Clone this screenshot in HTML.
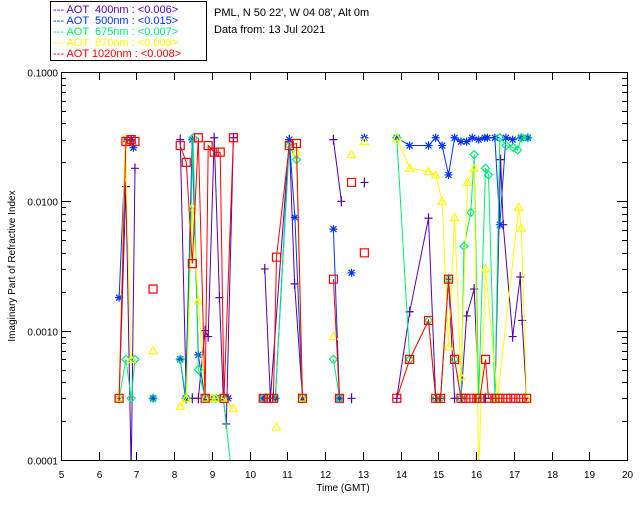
<!DOCTYPE html>
<html><head><meta charset="utf-8">
<style>
html,body{margin:0;padding:0;background:#fff;}
svg{display:block;font-family:"Liberation Sans",sans-serif;}
</style></head>
<body>
<svg id="chart" width="640" height="512" viewBox="0 0 640 512">
  <rect x="0" y="0" width="640" height="512" fill="#fff"/>
  <g>
    <rect x="50.5" y="1.5" width="156" height="59" fill="#fff" stroke="#000"/>
    <g font-size="11">
      <text x="53" y="13" fill="#5500aa">--- AOT &#160;400nm : &lt;0.006&gt;</text>
      <text x="53" y="24" fill="#0033ff">--- AOT &#160;500nm : &lt;0.015&gt;</text>
      <text x="53" y="35" fill="#00ee77">--- AOT &#160;675nm : &lt;0.007&gt;</text>
      <text x="53" y="46" fill="#ffff00">--- AOT &#160;870nm : &lt;0.008&gt;</text>
      <text x="53" y="57" fill="#ff0000">--- AOT 1020nm : &lt;0.008&gt;</text>
    </g>
  </g>
  <text x="214" y="16" font-size="11" fill="#000">PML, N 50 22', W 04 08', Alt 0m</text>
  <text x="214" y="33" font-size="11" fill="#000">Data from: 13 Jul 2021</text>
  <text transform="translate(15,266) rotate(-90)" font-size="10" text-anchor="middle">Imaginary Part of Refractive Index</text>
  <text x="343" y="491" font-size="10" text-anchor="middle">Time (GMT)</text>
  <g id="axes"></g>
  <g id="series"></g>
</svg>
<script>
const xTicks=[5,6,7,8,9,10,11,12,13,14,15,16,17,18,19,20];
const yTicks=[0.1,0.01,0.001,0.0001];
const yTickLabels=["0.1000","0.0100","0.0010","0.0001"];

const t1020=[6.54,6.72,6.86,6.96,null,7.44,null,8.16,8.32,8.48,8.64,8.82,8.90,9.06,9.22,9.32,9.57,null,10.36,10.5,10.63,10.71,11.05,11.24,11.4,null,12.22,12.38,null,12.7,null,13.04,null,13.9,14.24,14.74,14.93,15.06,15.27,15.43,15.6,15.73,15.86,16.02,16.1,16.25,16.33,16.5,16.63,16.79,16.92,17.05,17.19,17.34];
const v1020=[0.0003,0.029,0.030,0.029,null,0.0021,null,0.027,0.020,0.0033,0.031,0.0003,0.027,0.024,0.024,0.0003,0.031,null,0.0003,0.0003,0.0003,0.0037,0.027,0.028,0.0003,null,0.0025,0.0003,null,0.014,null,0.004,null,0.0003,0.0006,0.0012,0.0003,0.0003,0.0025,0.0006,0.0003,0.0003,0.0003,0.0003,0.0003,0.0006,0.0003,0.0003,0.0003,0.0003,0.0003,0.0003,0.0003,0.0003];

const t500=[6.54,6.72,6.86,6.92,null,7.44,null,8.16,8.30,8.48,8.64,8.82,9.0,9.1,9.3,9.43,null,10.36,10.68,11.05,11.2,11.4,null,12.22,12.38,null,12.7,null,13.04,null,13.9,14.24,14.74,14.93,15.1,15.27,15.43,15.6,15.75,15.9,16.07,16.23,16.3,16.5,16.63,16.79,16.97,17.19,17.37];
const v500=[0.0018,0.030,0.030,0.026,null,0.0003,null,0.0006,0.0003,0.030,0.00065,0.0003,0.0003,0.0003,0.0003,0.0003,null,0.0003,0.0003,0.030,0.0075,0.0003,null,0.0061,0.0003,null,0.0028,null,0.031,null,0.031,0.027,0.027,0.031,0.027,0.016,0.031,0.029,0.029,0.031,0.030,0.031,0.031,0.031,0.0066,0.031,0.030,0.031,0.031];

const t675=[6.54,6.72,6.86,6.96,null,7.44,null,8.16,8.32,8.5,8.64,8.82,9.0,9.1,9.3,9.5,null,10.36,10.68,11.05,11.24,11.4,null,12.22,12.38,null,13.9,14.24,14.74,14.93,15.06,15.27,15.43,15.6,15.68,15.86,15.95,16.07,16.25,16.33,16.5,16.63,16.8,16.99,17.1,17.2,17.37];
const v675=[0.0003,0.0006,0.0003,0.0006,null,0.0003,null,0.0006,0.0003,0.031,0.0005,0.0003,0.0003,0.0003,0.0003,0.00009,null,0.0003,0.0003,0.027,0.021,0.0003,null,0.0006,0.0003,null,0.031,0.0006,0.0012,0.0003,0.0003,0.0025,0.0006,0.0003,0.0045,0.0082,0.023,0.0003,0.018,0.016,0.0003,0.031,0.027,0.026,0.025,0.031,0.031];

const t870=[6.54,6.7,6.86,null,7.44,null,8.16,8.32,8.48,8.64,8.82,9.0,9.1,9.3,9.57,null,10.71,null,11.24,11.4,null,12.22,null,12.7,null,13.04,null,13.9,14.24,14.74,14.93,15.1,15.27,15.43,15.6,15.77,15.95,16.07,16.25,16.57,17.13,17.2,17.34];
const v870=[0.0003,0.030,0.0006,null,0.0007,null,0.00026,0.0003,0.009,0.0017,0.0003,0.0003,0.0003,0.0003,0.00025,null,0.00018,null,0.024,0.0003,null,0.0009,null,0.023,null,0.029,null,0.031,0.018,0.017,0.016,0.010,0.00075,0.0075,0.00044,0.014,0.018,0.00008,0.003,0.0003,0.009,0.0062,0.0003];

const t400=[6.54,6.72,6.86,6.96,null,8.16,8.32,8.48,8.64,8.82,8.9,9.06,9.2,9.3,9.38,9.57,null,10.4,10.55,11.05,11.19,11.4,null,12.22,12.43,null,12.7,null,13.04,null,13.9,14.24,14.74,14.93,15.06,15.27,15.43,15.6,15.75,15.95,16.07,16.25,16.5,16.65,16.72,16.97,17.17,17.22,17.34];
const v400=[0.0003,0.013,0.00008,0.018,null,0.030,0.0003,0.0003,0.0003,0.001,0.0009,0.031,0.0018,0.0003,0.00019,0.031,null,0.003,0.0003,0.030,0.0023,0.0003,null,0.030,0.010,null,0.0003,null,0.014,null,0.0003,0.0014,0.0074,0.0003,0.0003,0.0025,0.0003,0.0003,0.0013,0.0021,0.0003,0.0003,0.0003,0.021,0.0066,0.0009,0.0026,0.0012,0.0003];

const X0=61,X1=627,Y0=72,Y1=460;
function xs(t){return X0+(t-5)/15*(X1-X0);}
function ys(v){return Y0+(-1-Math.log10(v))/3*(Y1-Y0);}
const NS="http://www.w3.org/2000/svg";
function mk(tag,attrs,parent){const e=document.createElementNS(NS,tag);for(const k in attrs)e.setAttribute(k,attrs[k]);parent.appendChild(e);return e;}

const axes=document.getElementById('axes');
const frame=mk('rect',{x:X0+0.5,y:Y0+0.5,width:X1-X0,height:Y1-Y0,fill:'none',stroke:'#000'},axes);


xTicks.forEach(t=>{
  const x=Math.round(xs(t))+0.5;
  const a=mk('line',{x1:x,x2:x,y1:Y1,y2:Y1-8,stroke:'#000'},axes);
  
  
  const b=mk('line',{x1:x,x2:x,y1:Y0,y2:Y0+8,stroke:'#000'},axes);
  
  
  const l=mk('text',{x:x,y:Y1+18,'font-size':10,'text-anchor':'middle'},axes);
  l.textContent=t;
  
  
});
yTicks.forEach((v,i)=>{
  const y=Math.round(ys(v))+0.5;
  const a=mk('line',{x1:X0,x2:X0+10,y1:y,y2:y,stroke:'#000'},axes);
  
  
  const b=mk('line',{x1:X1,x2:X1-10,y1:y,y2:y,stroke:'#000'},axes);
  
  
  const l=mk('text',{x:X0-3,y:y+4,'font-size':10,'text-anchor':'end'},axes);
  l.textContent=yTickLabels[i];
  
  
  if(i<yTicks.length-1){
    for(let m=2;m<10;m++){
      const yy=Math.round(ys(v/10*m))+0.5;
      const c=mk('line',{x1:X0,x2:X0+5,y1:yy,y2:yy,stroke:'#000'},axes);
      
      
      const d=mk('line',{x1:X1,x2:X1-5,y1:yy,y2:yy,stroke:'#000'},axes);
      
      
    }
  }
});

const series=[
  {t:t400,v:v400,c:'#5500aa',m:'plus',n:'400'},
  {t:t500,v:v500,c:'#0033ff',m:'star',n:'500'},
  {t:t675,v:v675,c:'#00ee77',m:'diamond',n:'675'},
  {t:t870,v:v870,c:'#ffff00',m:'triangle',n:'870'},
  {t:t1020,v:v1020,c:'#ff0000',m:'square',n:'1020'}
];
const sg=document.getElementById('series');
const clipDef=mk('clipPath',{id:'clip'},sg);
mk('rect',{x:X0,y:Y0,width:X1-X0,height:Y1-Y0},clipDef);
series.forEach(s=>{
  const g=mk('g',{'clip-path':'url(#clip)'},sg);
  
  
  let d='',pen=false;
  for(let i=0;i<s.t.length;i++){
    if(s.t[i]===null||s.v[i]===null){pen=false;continue;}
    d+=(pen?'L':'M')+xs(s.t[i]).toFixed(1)+' '+ys(s.v[i]).toFixed(1);
    pen=true;
  }
  const p=mk('path',{d:d,fill:'none',stroke:s.c,'stroke-width':1},g);
  
  
  for(let i=0;i<s.t.length;i++){
    if(s.t[i]===null||s.v[i]===null)continue;
    const x=xs(s.t[i]),y=ys(s.v[i]);
    let md;
    if(s.m==='plus')md=`M${x-4} ${y}H${x+4}M${x} ${y-5}V${y+5}`;
    else if(s.m==='star')md=`M${x-4} ${y}H${x+4}M${x} ${y-4}V${y+4}M${x-3} ${y-3}L${x+3} ${y+3}M${x-3} ${y+3}L${x+3} ${y-3}`;
    else if(s.m==='diamond')md=`M${x} ${y-4}L${x+4} ${y}L${x} ${y+4}L${x-4} ${y}Z`;
    else if(s.m==='triangle')md=`M${x} ${y-4}L${x+4} ${y+3}L${x-4} ${y+3}Z`;
    else md=`M${x-4} ${y-4}H${x+4}V${y+4}H${x-4}Z`;
    const mm=mk('path',{d:md,fill:'none',stroke:s.c,'stroke-width':1.2},g);
    
    
  }
});
</script>
</body></html>
